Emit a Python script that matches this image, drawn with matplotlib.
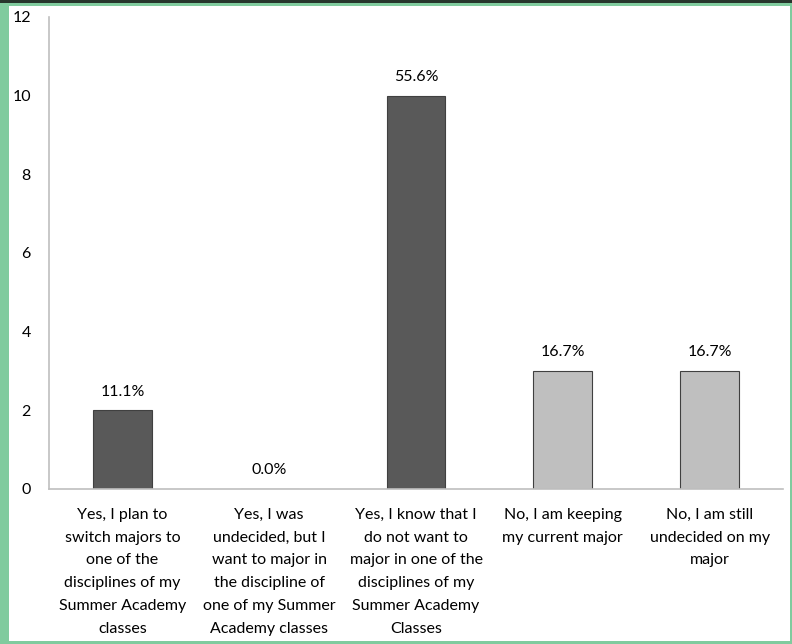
import matplotlib.pyplot as plt
from matplotlib.patches import Rectangle

categories = [
    "Yes, I plan to\nswitch majors to\none of the\ndisciplines of my\nSummer Academy\nclasses",
    "Yes, I was\nundecided, but I\nwant to major in\nthe discipline of\none of my Summer\nAcademy classes",
    "Yes, I know that I\ndo not want to\nmajor in one of the\ndisciplines of my\nSummer Academy\nClasses",
    "No, I am keeping\nmy current major",
    "No, I am still\nundecided on my\nmajor",
]
counts = [2, 0, 10, 3, 3]
pct_labels = ["11.1%", "0.0%", "55.6%", "16.7%", "16.7%"]
bar_colors = ["#595959", "#595959", "#595959", "#BFBFBF", "#BFBFBF"]

plt.rcParams['font.family'] = ['Lato', 'DejaVu Sans']
fs = 11.5

W, H = 792, 644
fig = plt.figure(figsize=(W / 100, H / 100), dpi=100)
fig.patch.set_facecolor("#80CB9E")
# white panel inside the green frame, dark strip on top
fig.patches.append(Rectangle((9 / W, 1 - 641 / H), (790 - 9) / W, (641 - 6) / H,
                             transform=fig.transFigure, facecolor="white", edgecolor="none", zorder=-10))
fig.patches.append(Rectangle((0, 1 - 3 / H), 1, 3 / H,
                             transform=fig.transFigure, facecolor="#27352C", edgecolor="none", zorder=-10))

ax = fig.add_axes([49 / W, 1 - 489 / H, (783 - 49) / W, (489 - 17) / H])
ax.set_facecolor("none")
x = list(range(len(categories)))
ax.bar(x, counts, width=0.4, color=bar_colors, edgecolor="#404040", linewidth=0.8, zorder=2)
for xi, c, lab in zip(x, counts, pct_labels):
    ax.text(xi, c + 0.3, lab, ha="center", va="bottom", fontsize=fs, color="#000000")

ax.set_xlim(-0.5, len(categories) - 0.5)
ax.set_ylim(0, 12)
ax.set_yticks(range(0, 13, 2))
ax.set_xticks(x)
ax.set_xticklabels(categories, fontsize=fs, linespacing=1.8)
ax.tick_params(axis="both", length=0, labelsize=fs)
ax.tick_params(axis="x", pad=13.5)
ax.tick_params(axis="y", pad=13)
for s in ["top", "right"]:
    ax.spines[s].set_visible(False)
for s in ["left", "bottom"]:
    ax.spines[s].set_color("#BFBFBF")
    ax.spines[s].set_linewidth(1.2)

fig.savefig("out.png", dpi=100, facecolor=fig.get_facecolor())
